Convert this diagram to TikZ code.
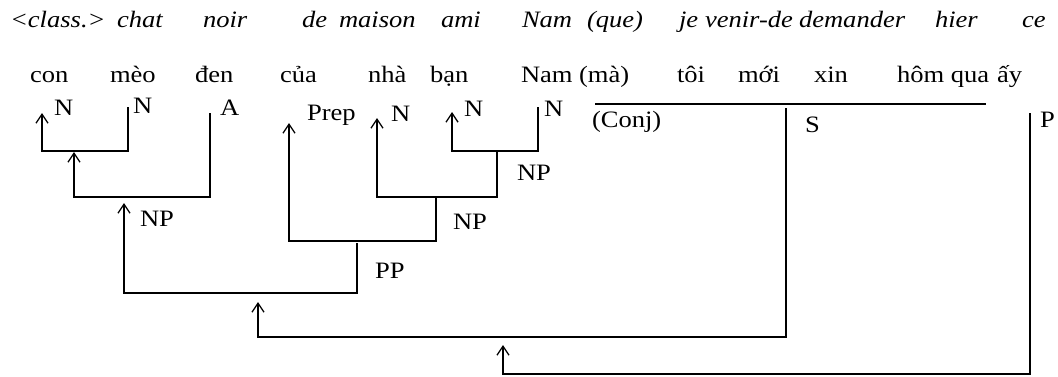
\documentclass[tikz,border=0pt]{standalone}
\usepackage{fontspec}
\setmainfont{Liberation Serif}[FakeStretch=1.13]
\usetikzlibrary{arrows.meta}
\begin{document}
\begin{tikzpicture}[x=1pt,y=-1pt,
  txt/.style={anchor=base west,inner sep=0pt,outer sep=0pt,font=\fontsize{23.5pt}{27pt}\selectfont},
  gl/.style={txt,font=\fontsize{23.5pt}{27pt}\selectfont\itshape},
  ln/.style={line width=1.3pt},
  up/.style={ln,-{Straight Barb[length=9pt,width=12pt,line width=1.3pt]}}]
\useasboundingbox (0,0) rectangle (1058,376);
% French glosses
\node[gl] (g1) at (10,27) {<class.>};
\node[gl] (g2) at (117,27) {chat};
\node[gl] (g3) at (203,27) {noir};
\node[gl] (g4) at (302,27) {de};
\node[gl] (g5) at (339,27) {maison};
\node[gl] (g6) at (441,27) {ami};
\node[gl] (g7) at (522,27) {Nam};
\node[gl] (g8) at (587,27) {(que)};
\node[gl] (g9) at (679,27) {je};
\node[gl] (g10) at (705,27) {venir-de};
\node[gl] (g11) at (799,27) {demander};
\node[gl] (g12) at (935,27) {hier};
\node[gl] (g13) at (1022,27) {ce};
% Vietnamese words
\node[txt] (w1) at (30,82) {con};
\node[txt] (w2) at (110,82) {mèo};
\node[txt] (w3) at (195,82) {đen};
\node[txt] (w4) at (280,82) {của};
\node[txt] (w5) at (368,82) {nhà};
\node[txt] (w6) at (430,82) {bạn};
\node[txt] (w7) at (521,82) {Nam};
\node[txt] (w8) at (579,82) {(mà)};
\node[txt] (w9) at (677,82) {tôi};
\node[txt] (w10) at (738,82) {mới};
\node[txt] (w11) at (814,82) {xin};
\node[txt] (w12) at (897,82) {hôm qua};
\node[txt] (w13) at (997,82) {ấy};
% category labels
\node[txt] (l1) at (54,115) {N};
\node[txt] (l2) at (133,113) {N};
\node[txt] (l3) at (220,115) {A};
\node[txt] (l4) at (307,120) {Prep};
\node[txt] (l5) at (391,121) {N};
\node[txt] (l6) at (464,116) {N};
\node[txt] (l7) at (544,116) {N};
\node[txt] (l8) at (592,127) {(Conj)};
\node[txt] (l9) at (805,132) {S};
\node[txt] (l10) at (1040,127) {P};
\node[txt] (np1) at (140,226) {NP};
\node[txt] (np2) at (453,229) {NP};
\node[txt] (np3) at (517,180) {NP};
\node[txt] (pp) at (375,278) {PP};
% junction points
\coordinate (conT) at (42,113);
\coordinate (conB) at (42,151);
\coordinate (meoT) at (128,107);
\coordinate (meoB) at (128,151);
\coordinate (n1T) at (74,152);
\coordinate (n1B) at (74,197);
\coordinate (denT) at (210,113);
\coordinate (denB) at (210,197);
\coordinate (npT) at (124,203);
\coordinate (npB) at (124,293);
\coordinate (ppT) at (357,243);
\coordinate (ppB) at (357,293);
\coordinate (prepT) at (289,123);
\coordinate (prepB) at (289,241);
\coordinate (np2T) at (436,197);
\coordinate (np2B) at (436,241);
\coordinate (nhaT) at (377,118);
\coordinate (nhaB) at (377,197);
\coordinate (np3T) at (497,151);
\coordinate (np3B) at (497,197);
\coordinate (banT) at (452,112);
\coordinate (banB) at (452,151);
\coordinate (namT) at (538,107);
\coordinate (namB) at (538,151);
\coordinate (barL) at (595,104);
\coordinate (barR) at (986,104);
\coordinate (sT) at (786,108);
\coordinate (sB) at (786,337);
\coordinate (npsT) at (258,302);
\coordinate (npsB) at (258,337);
\coordinate (pT) at (1030,113);
\coordinate (pB) at (1030,374);
\coordinate (rootT) at (503,345);
\coordinate (rootB) at (503,374);
% connectors
\draw[up] (meoT) -- (meoB) -- (conB) -- (conT);
\draw[up] (denT) -- (denB) -- (n1B) -- (n1T);
\draw[up] (namT) -- (namB) -- (banB) -- (banT);
\draw[up] (np3T) -- (np3B) -- (nhaB) -- (nhaT);
\draw[up] (np2T) -- (np2B) -- (prepB) -- (prepT);
\draw[up] (ppT) -- (ppB) -- (npB) -- (npT);
\draw[ln] (barL) -- (barR);
\draw[up] (sT) -- (sB) -- (npsB) -- (npsT);
\draw[up] (pT) -- (pB) -- (rootB) -- (rootT);
\end{tikzpicture}
\end{document}
